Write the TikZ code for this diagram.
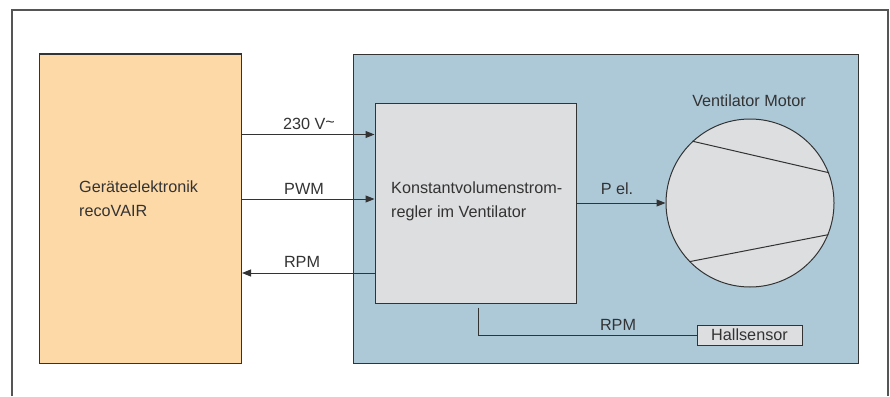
\documentclass[tikz,border=0pt]{standalone}
\usepackage{fontspec}
\setmainfont{Liberation Sans}
\usetikzlibrary{arrows.meta}
\definecolor{unitfill}{HTML}{FDD9A7}
\definecolor{fanfill}{HTML}{ADC9D8}
\definecolor{boxfill}{HTML}{DDDEE0}
\definecolor{ink}{HTML}{333333}
\definecolor{framegray}{HTML}{555555}

\begin{document}
\begin{tikzpicture}[x=1pt,y=-1pt,
  every node/.style={font=\fontsize{16.2}{24}\selectfont, text=ink},
  block/.style={draw=ink, line width=1pt, inner sep=0pt, anchor=north west},
  lbl/.style={anchor=base, inner sep=0pt},
  sig/.style={draw=ink, line width=1pt, -{Triangle[length=9pt,width=7pt]}},
  wire/.style={draw=ink, line width=1pt}]
\useasboundingbox (0,0) rectangle (890,396);

% outer frame, open at the bottom
\draw[framegray, line width=1.2pt] (12,396) -- (12,10) -- (888,10) -- (888,396);

% main blocks
\node[block, fill=unitfill, minimum width=202pt, minimum height=309pt] (unit) at (39,53.5) {};
\node[block, fill=fanfill, minimum width=505pt, minimum height=308.5pt] (fan) at (352.5,54) {};
\node[block, fill=boxfill, minimum width=201pt, minimum height=200.5pt] (ctrl) at (374.5,102.5) {};
\node[draw=ink, line width=1pt, fill=boxfill, circle, minimum size=168pt, inner sep=0pt] (motor) at (750,203) {};
\node[draw=ink, line width=1pt, fill=boxfill, minimum width=105pt, minimum height=20pt, inner sep=0pt] (hall) at (749.5,335) {Hallsensor};

% block texts
\node[anchor=north west, align=left, inner sep=0pt] (unittxt) at (79,181) {Geräteelektronik\\recoVAIR};
\node[anchor=north west, align=left, inner sep=0pt] (ctrltxt) at (391,182) {Konstantvolumenstrom-\\regler im Ventilator};
\node[lbl] (motortxt) at (749,106) {Ventilator Motor};

% rotor blades
\draw[wire] (motor.133.6) -- (motor.21.9);
\draw[wire] (motor.224.5) -- (motor.338.1);

% signal lines
\coordinate (ySupply) at (0,134.5);
\coordinate (yPwm) at (0,199);
\coordinate (yRpm) at (0,273);
\coordinate (xHall) at (478,0);
\draw[sig] (unit.east |- ySupply) -- (ctrl.west |- ySupply);
\draw[sig] (unit.east |- yPwm) -- (ctrl.west |- yPwm);
\draw[sig] (ctrl.west |- yRpm) -- (unit.east |- yRpm);
\draw[sig] (ctrl.east |- motor.west) -- (motor.west);
\draw[wire] ([yshift=-3.5pt]ctrl.south -| xHall) |- (hall.west);

% line labels
\node[lbl] (lSupply) at (309,129) {230 V\raisebox{2pt}{\textasciitilde}};
\node[lbl] (lPwm) at (304,194) {PWM};
\node[lbl] (lRpm) at (302,267) {RPM};
\node[lbl] (lPel) at (617,194) {P el.};
\node[lbl] (lRpmHall) at (618,330) {RPM};
\end{tikzpicture}
\end{document}
